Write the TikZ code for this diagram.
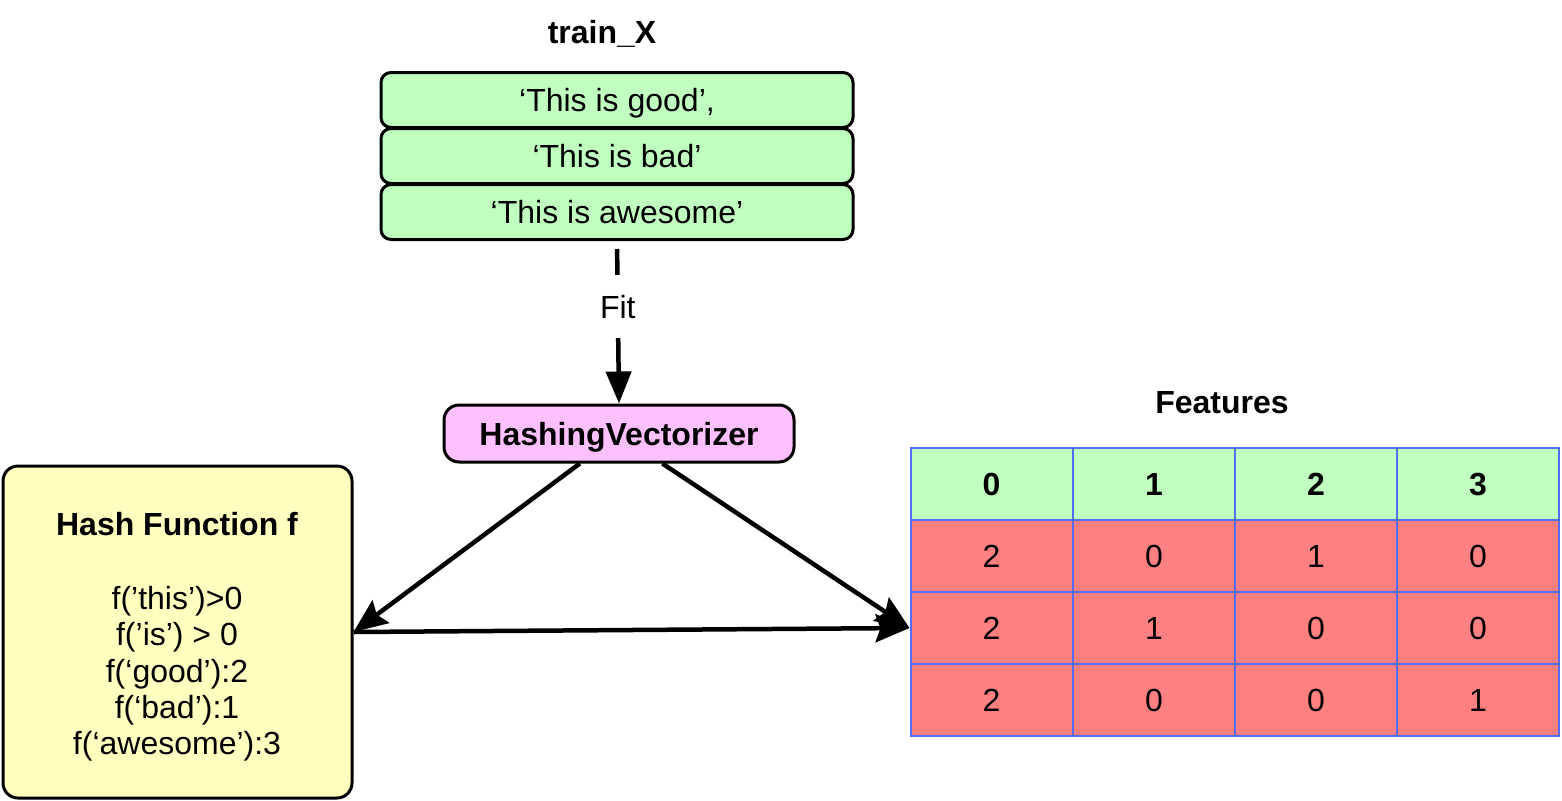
\documentclass[tikz,border=0pt]{standalone}
\usepackage{fontspec}
\setmainfont{Liberation Sans}
\usetikzlibrary{arrows.meta,calc}
\definecolor{boxgreen}{RGB}{192,255,192}
\definecolor{boxpink}{RGB}{255,192,255}
\definecolor{boxyellow}{RGB}{255,255,192}
\definecolor{cellred}{RGB}{255,128,128}
\definecolor{cellblue}{RGB}{80,110,250}
\begin{document}
\begin{tikzpicture}[x=1pt,y=-1pt,
  txt/.style={font=\fontsize{32}{36.3}\selectfont, text height=23pt, text depth=0pt},
  title/.style={txt, font=\fontsize{32}{36.3}\selectfont\bfseries},
  rowbox/.style={txt, draw, line width=3pt, rounded corners=10pt, fill=boxgreen,
    minimum width=472pt, minimum height=55pt, inner sep=0pt},
  hvbox/.style={title, draw, line width=3pt, rounded corners=15pt, fill=boxpink,
    minimum width=350pt, minimum height=57pt, inner sep=0pt},
  hashbox/.style={draw, line width=3pt, rounded corners=15pt, fill=boxyellow,
    minimum width=349pt, minimum height=332pt, inner sep=0pt},
  cellbox/.style={txt, draw=cellblue, line width=2pt, minimum width=162pt,
    minimum height=72pt, inner sep=0pt},
  headcell/.style={cellbox, fill=boxgreen, font=\fontsize{32}{36.3}\selectfont\bfseries},
  bodycell/.style={cellbox, fill=cellred},
  conn/.style={line width=4.5pt, draw=black},
  tipc/.style={-{Stealth[length=34pt,width=28pt,inset=5pt]}},
  fitlabel/.style={txt, fill=white, inner xsep=2pt, inner ysep=20pt},
  ]
\useasboundingbox (0,0) rectangle (1562,800);

% titles
\node[title] (trainx) at (602,32) {train\_X};
\node[title] (feat) at (1222,402) {Features};

% train_X rows
\node[rowbox] (x1) at (617,100) {‘This is good’,};
\node[rowbox] (x2) at (617,156) {‘This is bad’};
\node[rowbox] (x3) at (617,212) {‘This is awesome’};

% vectorizer
\node[hvbox] (hv) at (619,433.5) {HashingVectorizer};

% hash function box
\node[hashbox] (hash) at (177.5,632) {};
\node[title] (hashtitle) at (177,524) {Hash Function f};
\node[font=\fontsize{32}{36.3}\selectfont, align=center, inner sep=0pt] (hashbody) at (177,674)
  {f(’this’)>0\\f(’is’) > 0\\f(‘good’):2\\f(‘bad’):1\\f(‘awesome’):3};

% table
\foreach \c/\x/\v in {0/991.5/0,1/1154/1,2/1316/2,3/1478/3}
  \node[headcell] (h\c) at (\x,484) {\v};
\foreach \c/\x/\v in {0/991.5/2,1/1154/0,2/1316/1,3/1478/0}
  \node[bodycell] (ra\c) at (\x,556) {\v};
\foreach \c/\x/\v in {0/991.5/2,1/1154/1,2/1316/0,3/1478/0}
  \node[bodycell] (rb\c) at (\x,628) {\v};
\foreach \c/\x/\v in {0/991.5/2,1/1154/0,2/1316/0,3/1478/1}
  \node[bodycell] (rc\c) at (\x,700) {\v};

% connectors
\draw[conn, shorten <=8pt, -{Triangle[length=32pt,width=25pt]}]
  (x3.south) -- node[fitlabel, pos=0.405] {Fit} (hv.north);
\coordinate (hvl) at ($(hv.south west)!0.389!(hv.south east)$);
\coordinate (hvr) at ($(hv.south west)!0.623!(hv.south east)$);
\draw[conn, tipc] (hvl) -- (hash.east);
\draw[conn, tipc] (hvr) -- (rb0.west);
\draw[conn, tipc] (hash.east) -- (rb0.west);
\end{tikzpicture}
\end{document}
